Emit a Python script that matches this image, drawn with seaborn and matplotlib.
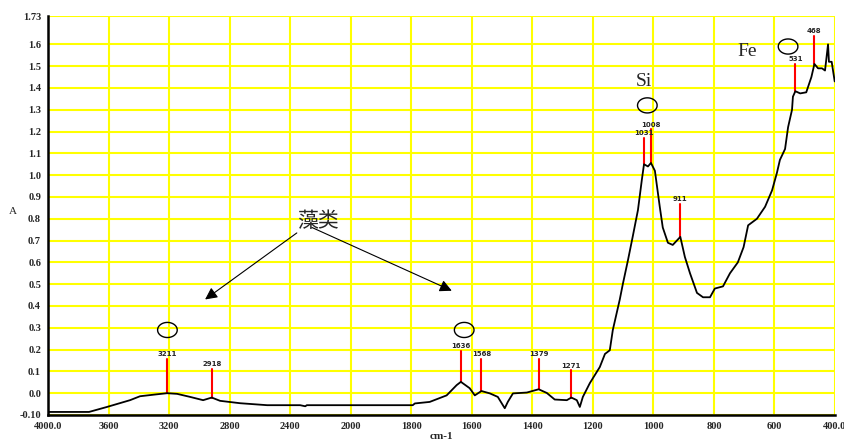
import numpy as np
import pandas as pd
import matplotlib
matplotlib.use("Agg")
import matplotlib.pyplot as plt
import seaborn as sns

# ---------------- data ----------------
wavenumber = [4000, 3729, 3610, 3458, 3392, 3292, 3213, 3147, 3061, 2975, 2918, 2863,
              2730, 2552, 2334, 2300, 2290, 2202, 2003, 1795, 1788, 1739, 1683, 1650,
              1636, 1607, 1590, 1568, 1540, 1514, 1491, 1481, 1464, 1418, 1379, 1352,
              1326, 1286, 1271, 1253, 1243, 1233, 1210, 1177, 1160, 1144, 1134, 1111,
              1101, 1084, 1068, 1051, 1038, 1031, 1018, 1008, 995, 979, 969, 952, 936,
              911, 896, 879, 856, 836, 813, 797, 770, 747, 721, 702, 687, 658, 631, 608,
              592, 582, 565, 555, 542, 539, 531, 515, 495, 478, 468, 456, 443, 433, 423,
              420, 411, 401]
absorbance = [-0.086, -0.086, -0.063, -0.032, -0.014, -0.006, 0.0, -0.003, -0.017, -0.032,
              -0.02, -0.035, -0.046, -0.055, -0.055, -0.06, -0.055, -0.055, -0.055, -0.055,
              -0.047, -0.04, -0.01, 0.037, 0.052, 0.023, -0.01, 0.01, -0.001, -0.017,
              -0.069, -0.04, -0.001, 0.003, 0.018, 0.001, -0.029, -0.032, -0.02, -0.032,
              -0.063, -0.017, 0.046, 0.12, 0.18, 0.197, 0.29, 0.43, 0.5, 0.61, 0.72, 0.84,
              0.98, 1.05, 1.04, 1.056, 1.02, 0.856, 0.76, 0.69, 0.68, 0.717, 0.625, 0.55,
              0.46, 0.44, 0.44, 0.48, 0.49, 0.55, 0.60, 0.67, 0.77, 0.80, 0.855, 0.93,
              1.01, 1.07, 1.12, 1.22, 1.30, 1.36, 1.385, 1.375, 1.38, 1.45, 1.51, 1.49,
              1.49, 1.48, 1.60, 1.52, 1.52, 1.43]

peak_wn = [3211, 2918, 1636, 1568, 1379, 1271, 1031, 1008, 911, 531, 468]
peak_labels = ["3211", "2918", "1636", "1568", "1379", "1271", "1031", "1008", "911", "531", "468"]
peak_top = [0.156, 0.11, 0.193, 0.156, 0.156, 0.105, 1.17, 1.21, 0.87, 1.51, 1.64]

circle_wn = [3211, 1625, 1020, 555]
circle_a = [0.29, 0.29, 1.32, 1.59]

element_labels = ["Si", "Fe"]
element_wn = [1031, 690]
element_a = [1.43, 1.565]

algae_label = "藻类"
algae_pos = (2215, 0.79)
arrow_starts = [(2356, 0.735), (2256, 0.76)]
arrow_ends = [(2962, 0.43), (1666, 0.47)]

xtick_values = [4000, 3600, 3200, 2800, 2400, 2000, 1800, 1600, 1400, 1200, 1000, 800, 600, 400]
xtick_labels = ["4000.0", "3600", "3200", "2800", "2400", "2000", "1800", "1600",
                "1400", "1200", "1000", "800", "600", "400.0"]
ytick_values = [-0.10, 0.0, 0.1, 0.2, 0.3, 0.4, 0.5, 0.6, 0.7, 0.8, 0.9, 1.0, 1.1, 1.2,
                1.3, 1.4, 1.5, 1.6, 1.73]
ytick_labels = ["-0.10", "0.0", "0.1", "0.2", "0.3", "0.4", "0.5", "0.6", "0.7", "0.8",
                "0.9", "1.0", "1.1", "1.2", "1.3", "1.4", "1.5", "1.6", "1.73"]

# ---------------- plot ----------------
sns.set_style("white")
plt.rcParams['font.family'] = ['Liberation Serif', 'Noto Sans CJK SC', 'DejaVu Sans']

df = pd.DataFrame({"wn": wavenumber, "A": absorbance})

fig = plt.figure(figsize=(8.45, 4.43), dpi=100)
ax = fig.add_axes([48 / 845, 1 - 415 / 443, (835 - 48) / 845, (415 - 16) / 443])


def fwd(x):
    x = np.asarray(x, dtype=float)
    return np.where(x > 2000, 2000 + (x - 2000) / 2.0, x)


def inv(u):
    u = np.asarray(u, dtype=float)
    return np.where(u > 2000, 2000 + 2.0 * (u - 2000), u)


sns.lineplot(data=df, x="wn", y="A", ax=ax, color="black", lw=1.3,
             estimator=None, sort=False, zorder=3)

ax.set_xscale("function", functions=(fwd, inv))
ax.set_xlim(4000, 400)
ax.set_ylim(-0.10, 1.73)

# peak markers
base = np.interp(peak_wn, wavenumber[::-1], absorbance[::-1])
for wn, b, t, lab in zip(peak_wn, base, peak_top, peak_labels):
    ax.plot([wn, wn], [b, t], color="red", lw=1.5, zorder=2.5)
    ax.text(wn, t + 0.008, lab, fontsize=5, fontweight="bold", ha="center",
            va="bottom", family="DejaVu Sans")

# open ellipses
theta = np.linspace(0, 2 * np.pi, 60)
ellipse = np.column_stack([1.3 * np.cos(theta), np.sin(theta)])
ax.scatter(circle_wn, circle_a, marker=ellipse, s=200, facecolors="none",
           edgecolors="black", linewidths=1.0, zorder=4)

for lab, wn, a in zip(element_labels, element_wn, element_a):
    ax.text(wn, a, lab, fontsize=14, ha="center", va="center")

ax.text(algae_pos[0], algae_pos[1], algae_label, fontsize=15, ha="center", va="center",
        family=["Noto Sans CJK SC", "DejaVu Sans"])
for s, e in zip(arrow_starts, arrow_ends):
    ax.annotate("", xy=e, xytext=s,
                arrowprops=dict(arrowstyle="-|>", color="black", lw=0.8,
                                mutation_scale=18, shrinkA=0, shrinkB=0))

ax.set_xticks(xtick_values)
ax.set_xticklabels(xtick_labels, fontsize=7.5, fontweight="bold")
ax.set_yticks(ytick_values)
ax.set_yticklabels(ytick_labels, fontsize=7.5, fontweight="bold")
ax.xaxis.set_minor_locator(matplotlib.ticker.NullLocator())

ax.grid(True, color="#FFFF00", lw=1.5, zorder=0)
ax.set_axisbelow(True)
for side in ["top", "right"]:
    ax.spines[side].set_visible(False)
for side in ["left", "bottom"]:
    ax.spines[side].set_color("black")
    ax.spines[side].set_linewidth(1.8)
ax.tick_params(axis="both", direction="out", length=3, width=1, color="black", pad=2)

ax.set_xlabel("cm-1", fontsize=8, fontweight="bold", labelpad=1)
ax.set_ylabel("A", fontsize=8, rotation=0, labelpad=10)
ax.yaxis.set_label_coords(-0.045, 0.5)

fig.savefig("out.png", dpi=100)
